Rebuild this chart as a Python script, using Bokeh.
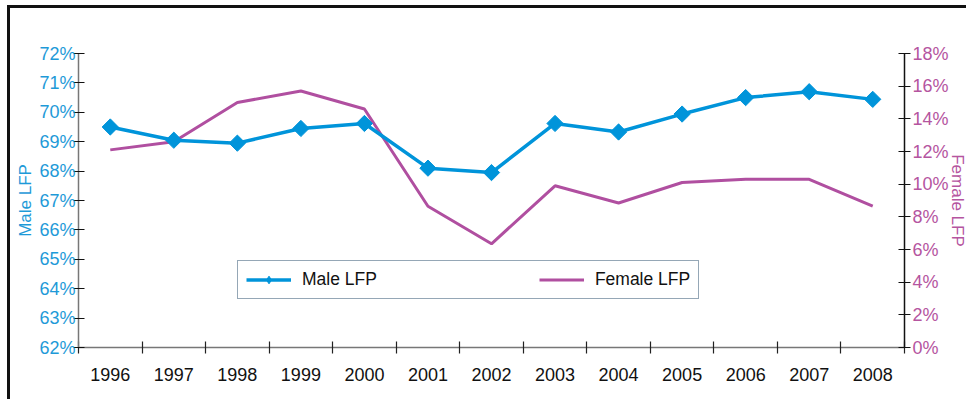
from math import pi
from bokeh.plotting import figure
from bokeh.models import (Range1d, LinearAxis, FixedTicker, PrintfTickFormatter,
                          Legend, LegendItem)
from bokeh.embed import file_html
from bokeh.resources import INLINE

years = [1996, 1997, 1998, 1999, 2000, 2001, 2002, 2003, 2004, 2005, 2006, 2007, 2008]
year_labels = [str(y) for y in years]
male_lfp = [69.5, 69.05, 68.95, 69.45, 69.62, 68.1, 67.95, 69.62, 69.33, 69.94, 70.5, 70.7, 70.44]
female_lfp = [12.1, 12.6, 15.0, 15.7, 14.6, 8.65, 6.35, 9.9, 8.85, 10.1, 10.3, 10.3, 8.65]
male_ticks = [62, 63, 64, 65, 66, 67, 68, 69, 70, 71, 72]
female_ticks = [0, 2, 4, 6, 8, 10, 12, 14, 16, 18]

MALE = "#0094DA"
FEMALE = "#B04FA0"
MALE_TXT = "#1E9AD8"
FEMALE_TXT = "#B5559F"
FONT = "Liberation Sans"

p = figure(width=959, height=394, output_backend="svg", toolbar_location=None,
           x_range=Range1d(1995.5, 2008.5), y_range=Range1d(62, 72),
           min_border_left=68, min_border_right=65, min_border_top=45, min_border_bottom=55)
p.styles = {"margin-left": "7px", "margin-top": "5px",
            "border-top": "3px solid #111111", "border-left": "3px solid #111111"}
p.outline_line_color = None
p.grid.visible = False
p.background_fill_color = "white"
p.border_fill_color = "white"

p.extra_y_ranges = {"female": Range1d(0, 18)}

# bottom axis
xa = p.xaxis[0]
xa.ticker = FixedTicker(ticks=years, minor_ticks=[y - 0.5 for y in years] + [years[-1] + 0.5])
xa.major_label_overrides = {y: l for y, l in zip(years, year_labels)}
xa.major_tick_line_color = None
xa.major_tick_out = 6
xa.major_tick_in = 0
xa.minor_tick_in = 6
xa.minor_tick_out = 6
xa.minor_tick_line_color = "#222222"
xa.minor_tick_line_width = 1.2
xa.axis_line_color = "#777777"
xa.axis_line_width = 1.5
xa.major_label_standoff = 14
xa.major_label_text_font = FONT
xa.major_label_text_font_size = "18px"
xa.major_label_text_color = "#111111"

# left axis
ya = p.yaxis[0]
ya.ticker = FixedTicker(ticks=male_ticks)
ya.formatter = PrintfTickFormatter(format="%d%%")
ya.major_tick_in = 6
ya.major_tick_out = 5
ya.major_tick_line_color = "#111111"
ya.major_tick_line_width = 1.2
ya.minor_tick_line_color = None
ya.axis_line_color = "#777777"
ya.axis_line_width = 1.5
ya.major_label_standoff = -2
ya.major_label_text_font = FONT
ya.major_label_text_font_size = "18px"
ya.major_label_text_color = MALE_TXT
ya.axis_label = "Male LFP"
ya.axis_label_text_font = FONT
ya.axis_label_text_font_size = "17px"
ya.axis_label_text_font_style = "normal"
ya.axis_label_text_color = MALE_TXT
ya.axis_label_standoff = 1

# right axis
ra = LinearAxis(y_range_name="female", ticker=FixedTicker(ticks=female_ticks),
                formatter=PrintfTickFormatter(format="%d%%"))
ra.major_tick_in = 6
ra.major_tick_out = 6
ra.major_tick_line_color = "#111111"
ra.major_tick_line_width = 1.2
ra.minor_tick_line_color = None
ra.axis_line_color = "#111111"
ra.axis_line_width = 1.5
ra.major_label_standoff = 2
ra.major_label_text_font = FONT
ra.major_label_text_font_size = "18px"
ra.major_label_text_color = FEMALE_TXT
ra.axis_label = "Female LFP"
ra.axis_label_text_font = FONT
ra.axis_label_text_font_size = "17px"
ra.axis_label_text_font_style = "normal"
ra.axis_label_text_color = FEMALE_TXT
ra.axis_label_standoff = -4
p.add_layout(ra, "right")

fl = p.line(years, female_lfp, y_range_name="female", line_width=3, color=FEMALE)
ml = p.line(years, male_lfp, line_width=3.5, color=MALE)
ms = p.scatter(years, male_lfp, marker="square", angle=pi / 4, size=11.5, color=MALE)
md = p.scatter([float("nan")], [float("nan")], marker="diamond", size=13, color=MALE)

legend = Legend(items=[LegendItem(label="Male LFP", renderers=[ml, md]),
                       LegendItem(label="Female LFP", renderers=[fl])],
                location=(159, 48), orientation="horizontal")
legend.padding = 8
legend.margin = 0
legend.spacing = 162
legend.glyph_width = 45
legend.glyph_height = 19
legend.label_height = 19
legend.label_standoff = 11
legend.label_text_font = FONT
legend.label_text_font_size = "17.5px"
legend.label_text_color = "#111111"
legend.border_line_color = "#2B4F6E"
legend.border_line_width = 1.5
legend.background_fill_color = "white"
legend.background_fill_alpha = 1
p.add_layout(legend)

open("out.html", "w").write(file_html(p, INLINE))
